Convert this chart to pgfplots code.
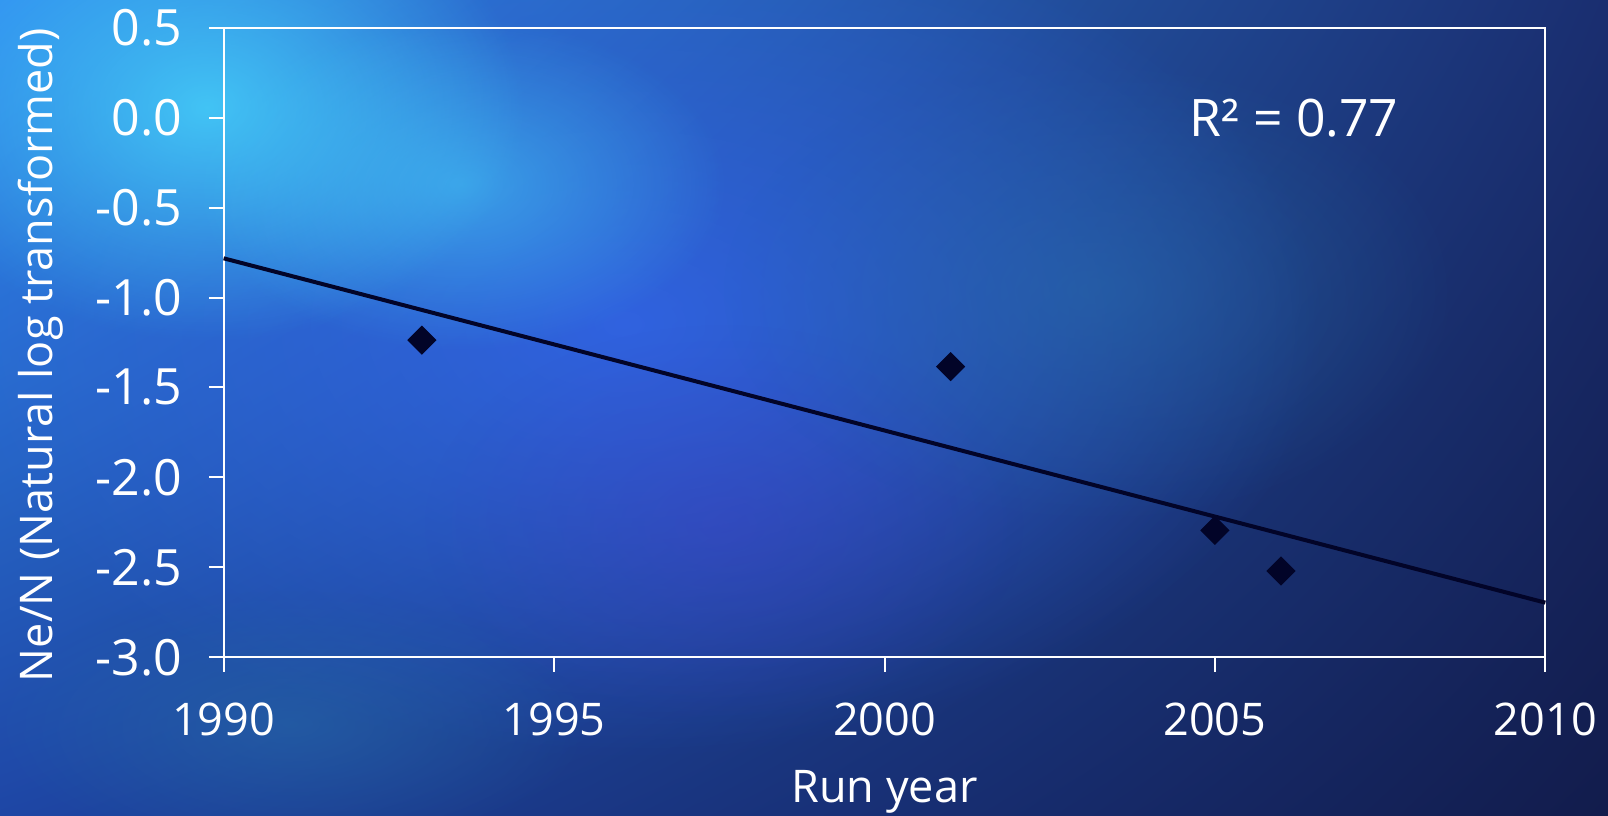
\documentclass[border=0pt]{standalone}
\usepackage{fontspec}
\setmainfont{Open Sans}
\usepackage{pgfplots}
\pgfplotsset{compat=1.18}
\usetikzlibrary{fadings,shadings}
\tikzfading[name=softblob, inner color=transparent!0, outer color=transparent!100]
\definecolor{bgUL}{RGB}{48,140,240}
\definecolor{bgUR}{RGB}{26,46,112}
\definecolor{bgLL}{RGB}{30,70,165}
\definecolor{bgLR}{RGB}{18,28,76}
\definecolor{blobcyan}{RGB}{70,210,250}
\definecolor{blobblue}{RGB}{50,100,230}
\definecolor{blobpurple}{RGB}{70,60,200}
\definecolor{blobteal}{RGB}{40,110,170}
\definecolor{markcol}{RGB}{2,4,40}
\begin{document}
\begin{tikzpicture}
% background
\shade[upper left=bgUL, upper right=bgUR, lower left=bgLL, lower right=bgLR]
  (-67.1pt,-47.3pt) rectangle (415.3pt,197.2pt);
\fill[blobblue, path fading=softblob, opacity=0.9] (120pt,100pt) ellipse (210pt and 130pt);
\fill[blobpurple, path fading=softblob, opacity=0.35] (150pt,40pt) ellipse (90pt and 60pt);
\fill[blobteal, path fading=softblob, opacity=0.5] (260pt,110pt) ellipse (110pt and 70pt);
\fill[blobcyan, path fading=softblob, opacity=0.85] (-5pt,165pt) ellipse (95pt and 70pt);
\fill[blobcyan, path fading=softblob, opacity=0.55] (71pt,142pt) ellipse (80pt and 50pt);
\fill[blobteal, path fading=softblob, opacity=0.5] (20pt,-20pt) ellipse (90pt and 40pt);
\begin{axis}[
  at={(0,0)}, anchor=south west,
  scale only axis, width=396.5pt, height=188.9pt,
  xmin=1990, xmax=2010, ymin=-3, ymax=0.5,
  xtick={1990,1995,2000,2005,2010},
  xticklabels={1990,1995,2000,2005,2010},
  ytick={-3,-2.5,-2,-1.5,-1,-0.5,0,0.5},
  yticklabels={-3.0,-2.5,-2.0,-1.5,-1.0,-0.5,0.0,0.5},
  tick align=outside, major tick length=4.3pt,
  xtick pos=bottom, ytick pos=left,
  axis line style={white, line width=0.6pt},
  every tick/.style={white, line width=0.6pt},
  xticklabel style={white, font=\fontsize{13.5}{16}\selectfont, yshift=-5.9pt},
  yticklabel style={white, font=\fontsize{15}{18}\selectfont, xshift=-4.6pt},
  label style={white, font=\fontsize{13.5}{16}\selectfont},
  xlabel={Run year},
  xlabel style={at={(axis description cs:0.5,-0.2312)}, anchor=base},
  ylabel={Ne/N (Natural log transformed)},
  ylabel style={at={(axis description cs:-0.1298,0.48)}, anchor=base},
  clip=false,
]
\addplot[markcol, line width=1.2pt] coordinates {(1990,-0.782) (2010,-2.696)};
\addplot[only marks, mark=square*, mark size=2.9pt, mark options={fill=markcol, draw=markcol, rotate=45}]
  coordinates {(1993,-1.237) (2001,-1.384) (2005,-2.294) (2006,-2.520)};
\node[white, font=\fontsize{15.5}{18}\selectfont] at (axis cs:2006.2,0) {R² = 0.77};
\end{axis}
\pgfresetboundingbox
\path (-67.1pt,-47.3pt) rectangle (415.3pt,197.2pt);
\end{tikzpicture}
\end{document}
